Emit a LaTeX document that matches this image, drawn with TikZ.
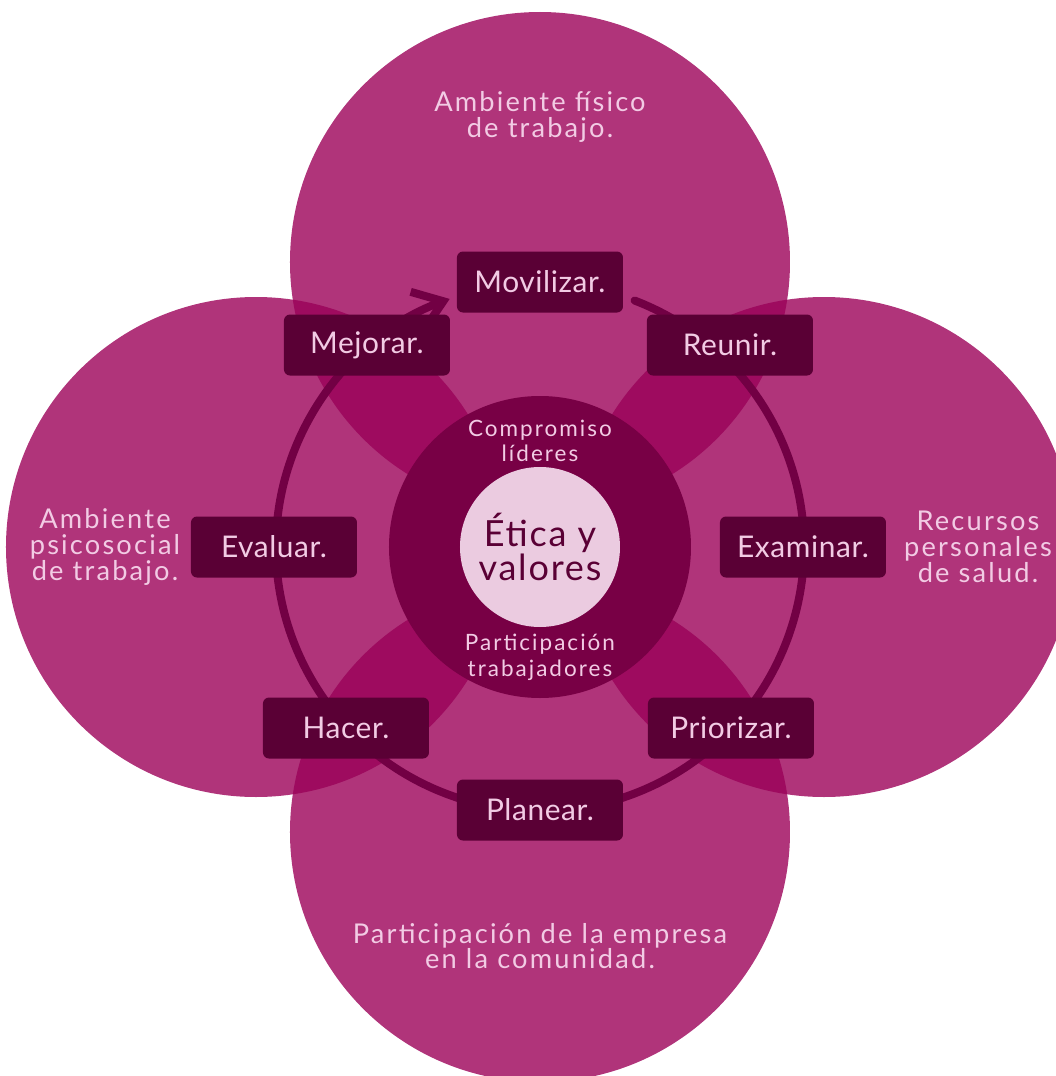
\documentclass[tikz,border=0pt]{standalone}
\usepackage{fontspec}
\setmainfont{Lato}
\usetikzlibrary{arrows.meta}
\definecolor{petal}{HTML}{B0347A}
\definecolor{lens}{HTML}{9E0B5F}
\definecolor{core}{HTML}{780045}
\definecolor{ringc}{HTML}{720044}
\definecolor{boxc}{HTML}{5A0035}
\definecolor{pale}{HTML}{EBCBE0}
\definecolor{paletext}{HTML}{F2CBE4}
\tikzset{step node/.style={rectangle,rounded corners=0.12cm,fill=boxc,text=paletext,minimum width=3.32cm,minimum height=1.22cm,inner sep=0pt,font=\fontsize{17}{17}\selectfont\addfontfeature{LetterSpace=2}},
	area text/.style={text=paletext,align=center,font=\fontsize{15.5}{14.6}\selectfont\addfontfeature{LetterSpace=8}},
}

\begin{document}
\begin{tikzpicture}
				\useasboundingbox (-10.8,-10.58) rectangle (10.32,10.94);
				\clip (-10.8,-10.58) rectangle (10.32,10.94);
				
				% four areas and their overlaps
				\fill[petal] (0,5.7) circle (5cm);
				\fill[petal] (0,-5.7) circle (5cm);
				\fill[petal] (-5.68,0) circle (5cm);
				\fill[petal] (5.68,0) circle (5cm);
				\begin{scope}
					\clip (0,5.7) circle (5cm);
					\fill[lens] (-5.68,0) circle (5cm);
					\fill[lens] (5.68,0) circle (5cm);
				\end{scope}
				\begin{scope}
					\clip (0,-5.7) circle (5cm);
					\fill[lens] (-5.68,0) circle (5cm);
					\fill[lens] (5.68,0) circle (5cm);
				\end{scope}
				
				\node[area text] (T) at (0,8.6) {Ambiente físico\\de trabajo.};
				\node[area text] (L) at (-8.7,0) {Ambiente\\psicosocial\\de trabajo.};
				\node[area text] (R) at (8.76,0) {Recursos\\personales\\de salud.};
				\node[area text] (B) at (0,-7.98) {Participación de la empresa\\en la comunidad.};
				
				% centre
				\node[circle,fill=core,minimum size=6.04cm,inner sep=0pt] (C) at (0,0) {};
				\node[circle,fill=pale,minimum size=3.2cm,inner sep=0pt,text=boxc,align=center,font=\fontsize{20.5}{16.5}\selectfont\addfontfeature{LetterSpace=5}] (E) at (0,0) {Ética y\\valores};
				\node[area text,font=\fontsize{12.8}{14.6}\selectfont\addfontfeature{LetterSpace=9}] (CL) at (0,2.12) {Compromiso\\líderes};
				\node[area text,font=\fontsize{12.8}{14.6}\selectfont\addfontfeature{LetterSpace=9}] (PT) at (0,-2.2) {Participación\\trabajadores};
				
				% cycle
				\coordinate (S) at (69:5.28);
				\draw[ringc,line width=0.16cm,line cap=round,-{Straight Barb[length=0.55cm,width=0.8cm]}]
					(S) arc[start angle=69,end angle=-250,radius=5.28cm];
				
				\node[step node] (Mo) at (0,5.3) {Movilizar.};
				\node[step node] (Re) at (3.8,4.04) {Reunir.};
				\node[step node] (Ex) at (5.26,0) {Examinar.};
				\node[step node] (Pr) at (3.82,-3.62) {Priorizar.};
				\node[step node] (Pl) at (0,-5.26) {Planear.};
				\node[step node] (H) at (-3.88,-3.62) {Hacer.};
				\node[step node] (Ev) at (-5.32,0) {Evaluar.};
				\node[step node] (Me) at (-3.46,4.04) {Mejorar.};
				
			\end{tikzpicture}
\end{document}
